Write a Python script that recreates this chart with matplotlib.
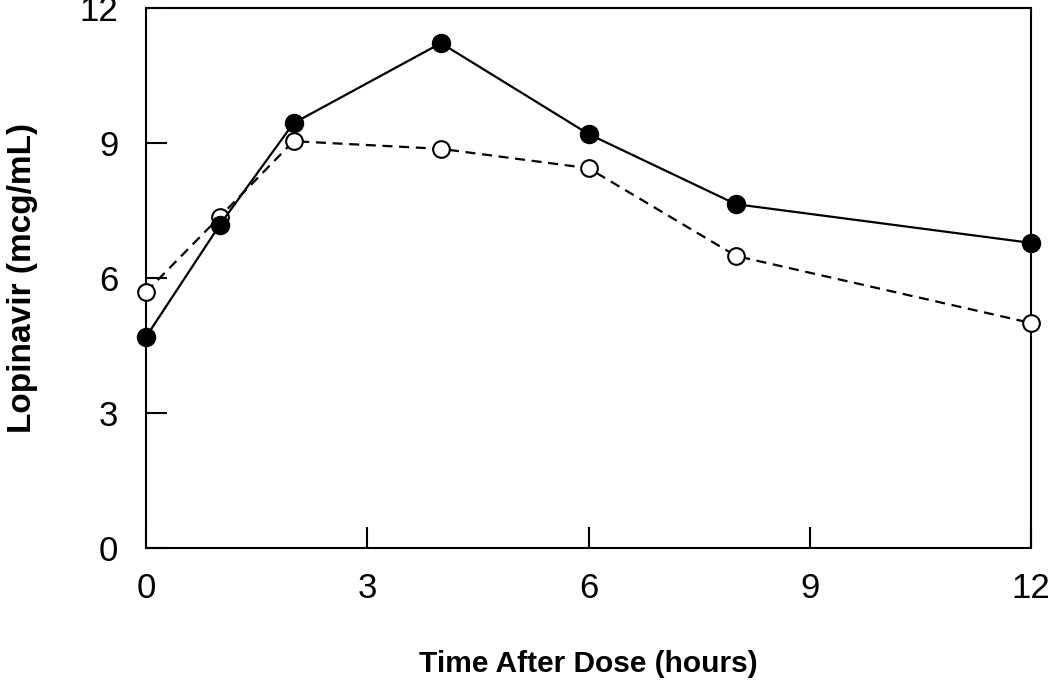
import matplotlib
matplotlib.use('Agg')
import matplotlib.pyplot as plt

hours = [0, 1, 2, 4, 6, 8, 12]
filled = [4.69, 7.18, 9.44, 11.22, 9.2, 7.64, 6.78]
empty = [5.69, 7.36, 9.04, 8.87, 8.44, 6.49, 5.0]

plt.rcParams['font.family'] = ['Liberation Sans', 'DejaVu Sans']

fig = plt.figure(figsize=(10.5, 6.84), dpi=100)
ax = fig.add_axes([146/1050, 1 - 548/684, 885/1050, 540/684])

ax.plot(hours, empty, color='black', linestyle=(0, (4.5, 3)), linewidth=1.6,
        marker='o', markersize=12, markerfacecolor='white', markeredgecolor='black',
        markeredgewidth=1.5, clip_on=False, zorder=3)
ax.plot(hours, filled, color='black', linestyle='-', linewidth=1.6,
        marker='o', markersize=13, markerfacecolor='black', markeredgecolor='black',
        clip_on=False, zorder=4)

ax.set_xlim(0, 12)
ax.set_ylim(0, 12)
ax.set_xticks([0, 3, 6, 9, 12])
ax.set_yticks([0, 3, 6, 9, 12])
ax.tick_params(direction='in', length=15, width=1.5, labelsize=25)
ax.tick_params(axis='x', pad=17)
ax.tick_params(axis='y', pad=20)
for s in ax.spines.values():
    s.set_linewidth(1.5)

ax.set_xlabel('Time After Dose (hours)', fontsize=21.5, fontweight='bold', labelpad=33)
ax.set_ylabel('Lopinavir (mcg/mL)', fontsize=24, fontweight='bold', labelpad=30)

fig.savefig('out.png', dpi=100)
